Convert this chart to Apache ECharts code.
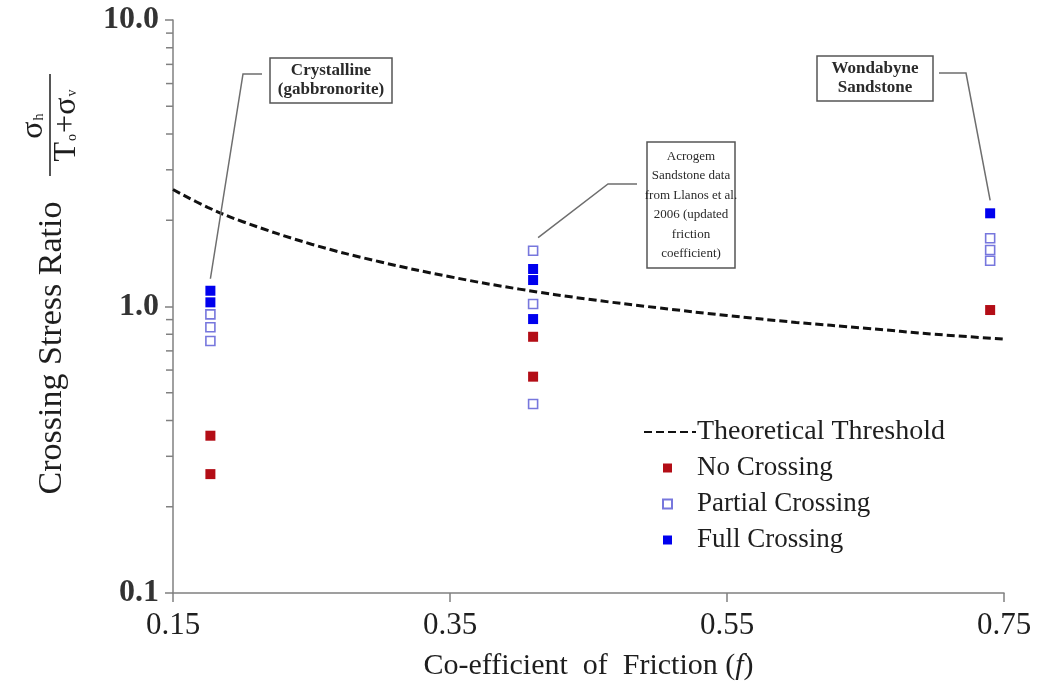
<!DOCTYPE html>
<html>
<head>
<meta charset="utf-8">
<script src="https://cdn.jsdelivr.net/npm/echarts@6/dist/echarts.min.js"></script>
<style>
  html, body { margin: 0; padding: 0; background: #ffffff; }
  #chart { width: 1039px; height: 694px; }
</style>
</head>
<body>
<div id="chart"></div>
<script>
const SERIF = '"Liberation Serif", "Times New Roman", serif';

// Friction coefficient (f) and crossing stress ratio of each experiment
const noCrossingF      = [0.177, 0.177, 0.41, 0.41, 0.74];
const noCrossingRatio  = [0.354, 0.260, 0.784, 0.569, 0.972];

const partialCrossingF     = [0.177, 0.177, 0.177, 0.41, 0.41, 0.41, 0.74, 0.74, 0.74];
const partialCrossingRatio = [0.939, 0.846, 0.758, 1.566, 1.020, 0.457, 1.730, 1.575, 1.445];

const fullCrossingF     = [0.177, 0.177, 0.41, 0.41, 0.41, 0.74];
const fullCrossingRatio = [1.135, 1.034, 1.352, 1.237, 0.904, 2.115];

// Theoretical crossing threshold curve
const thresholdF     = [0.15, 0.175, 0.20, 0.25, 0.30, 0.35, 0.40, 0.45, 0.50, 0.55, 0.60, 0.65, 0.70, 0.75];
const thresholdRatio = [2.56, 2.22, 1.98, 1.65, 1.43, 1.27, 1.15, 1.06, 0.99, 0.93, 0.88, 0.84, 0.80, 0.77];

// Axis ranges and ticks
const xMin = 0.15, xMax = 0.75, xStep = 0.2;
const yMin = 0.1, yMax = 10;
const yMinorTicks = [0.2, 0.3, 0.4, 0.5, 0.6, 0.7, 0.8, 0.9, 2, 3, 4, 5, 6, 7, 8, 9];

const zip = (xs, ys) => xs.map((x, i) => [x, ys[i]]);

const AXIS_GREY = '#808080';
const TEXT = '#1e1e1e';

const chart = echarts.init(document.getElementById('chart'), null, { renderer: 'canvas' });

const option = {
  backgroundColor: '#ffffff',
  animation: false,
  grid: { left: 173, right: 35, top: 20, bottom: 101 },
  xAxis: {
    type: 'value',
    min: xMin, max: xMax, interval: xStep,
    name: 'Co-efficient  of  Friction ({i|f})',
    nameLocation: 'middle',
    nameGap: 58,
    nameTextStyle: {
      fontFamily: SERIF, fontSize: 30, color: TEXT,
      rich: { i: { fontFamily: SERIF, fontSize: 30, fontStyle: 'italic', color: TEXT } }
    },
    axisLine: { show: true, lineStyle: { color: AXIS_GREY, width: 1.5 } },
    axisTick: { show: true, inside: false, length: 9, lineStyle: { color: AXIS_GREY, width: 1.5 } },
    axisLabel: {
      margin: 17,
      fontFamily: SERIF, fontSize: 31, color: TEXT,
      formatter: v => v.toFixed(2)
    },
    splitLine: { show: false }
  },
  yAxis: {
    type: 'log',
    logBase: 10,
    min: yMin, max: yMax,
    axisLine: { show: true, lineStyle: { color: AXIS_GREY, width: 1.5 } },
    axisTick: { show: true, inside: false, length: 8, lineStyle: { color: AXIS_GREY, width: 1.5 } },
    axisLabel: {
      margin: 14,
      fontFamily: SERIF, fontSize: 32, fontWeight: 'bold', color: '#333',
      formatter: v => Number(v).toFixed(1)
    },
    splitLine: { show: false }
  },
  legend: [
    {
      data: ['Theoretical Threshold'],
      left: 643, top: 418,
      padding: 0,
      itemWidth: 52, itemHeight: 12,
      selectedMode: false,
      itemStyle: { color: 'rgba(0,0,0,0)', borderColor: 'rgba(0,0,0,0)', borderWidth: 0 },
      textStyle: { fontFamily: SERIF, fontSize: 28, color: TEXT, padding: [0, 0, 0, -4] }
    },
    {
      data: ['No Crossing', 'Partial Crossing', 'Full Crossing'],
      orient: 'vertical',
      left: 662, top: 453,
      padding: 0,
      itemWidth: 9, itemHeight: 9,
      itemGap: 6,
      selectedMode: false,
      formatter: '{gap| }{name}',
      textStyle: {
        fontFamily: SERIF, fontSize: 27, color: TEXT, lineHeight: 30,
        rich: { gap: { width: 20 } }
      }
    }
  ],
  series: [
    {
      name: 'Theoretical Threshold',
      type: 'line',
      data: zip(thresholdF, thresholdRatio),
      smooth: 0.4,
      symbol: 'none',
      lineStyle: { color: '#111111', width: 3, type: [8, 4] },
      itemStyle: { color: '#111111' },
      z: 2
    },
    {
      name: 'No Crossing',
      type: 'scatter',
      data: zip(noCrossingF, noCrossingRatio),
      symbol: 'rect',
      symbolSize: 10,
      itemStyle: { color: '#b30d16', opacity: 1 },
      z: 3
    },
    {
      name: 'Partial Crossing',
      type: 'scatter',
      data: zip(partialCrossingF, partialCrossingRatio),
      symbol: 'rect',
      symbolSize: 9,
      itemStyle: { color: '#ffffff', borderColor: '#7777dd', borderWidth: 1.6, opacity: 1 },
      z: 3
    },
    {
      name: 'Full Crossing',
      type: 'scatter',
      data: zip(fullCrossingF, fullCrossingRatio),
      symbol: 'rect',
      symbolSize: 10,
      itemStyle: { color: '#0000ee', opacity: 1 },
      z: 3
    },
    {
      // minor ticks of the logarithmic ratio axis
      name: 'minorTicks',
      type: 'custom',
      clip: false,
      silent: true,
      data: yMinorTicks.map(v => [xMin, v]),
      renderItem: (params, api) => {
        const p = api.coord([api.value(0), api.value(1)]);
        return {
          type: 'line',
          shape: { x1: p[0] - 7, y1: p[1], x2: p[0], y2: p[1] },
          style: { stroke: AXIS_GREY, lineWidth: 1.5 }
        };
      },
      z: 1
    }
  ]
};

chart.setOption(option);

// Vertical title of the ratio axis with its fraction
const yTitle = {
  type: 'group',
  x: 52, y: 348,
  rotation: Math.PI / 2,
  silent: true,
  children: [
    {
      type: 'text',
      style: {
        text: 'Crossing Stress Ratio', x: 0, y: 0,
        align: 'center', verticalAlign: 'middle',
        font: `34px ${SERIF}`, fill: TEXT
      }
    },
    {
      type: 'text',
      style: {
        text: '{a|σ}{b|h}', x: 222, y: -18,
        align: 'center', verticalAlign: 'middle',
        fill: TEXT,
        rich: {
          a: { fontFamily: SERIF, fontSize: 32, fill: TEXT },
          b: { fontFamily: SERIF, fontSize: 14, fill: TEXT, padding: [10, 0, 0, 1] }
        }
      }
    },
    {
      type: 'line',
      shape: { x1: 172, y1: -2, x2: 274, y2: -2 },
      style: { stroke: TEXT, lineWidth: 1.5 }
    },
    {
      type: 'text',
      style: {
        text: '{a|T}{b|o}{a|+σ}{b|v}', x: 223, y: 15,
        align: 'center', verticalAlign: 'middle',
        fill: TEXT,
        rich: {
          a: { fontFamily: SERIF, fontSize: 32, fill: TEXT },
          b: { fontFamily: SERIF, fontSize: 14, fill: TEXT, padding: [10, 1, 0, 1] }
        }
      }
    }
  ]
};

function noteBox(id, x, y, w, h, lines, font, lineHeight) {
  const children = [{
    type: 'rect',
    shape: { x: 0, y: 0, width: w, height: h },
    style: { fill: '#ffffff', stroke: '#555555', lineWidth: 1.5 }
  }];
  const top = (h - lines.length * lineHeight) / 2 + lineHeight / 2;
  lines.forEach((t, i) => {
    children.push({
      type: 'text',
      style: {
        text: t, x: w / 2, y: top + i * lineHeight,
        align: 'center', verticalAlign: 'middle',
        font: font, fill: '#2a2a2a'
      }
    });
  });
  return { id, type: 'group', x, y, silent: true, children, z: 10 };
}

// Leader line from a note box to the top marker of a rock type
function leader(id, pts) {
  return {
    id, type: 'polyline', silent: true, z: 9,
    shape: { points: pts },
    style: { stroke: '#6e6e6e', lineWidth: 1.5, fill: null }
  };
}

const topOf = (fs, rs, f) => Math.max(...rs.filter((r, i) => fs[i] === f));
const allF = [...partialCrossingF, ...fullCrossingF, ...noCrossingF];
const allR = [...partialCrossingRatio, ...fullCrossingRatio, ...noCrossingRatio];
const anchor = f => chart.convertToPixel({ xAxisIndex: 0, yAxisIndex: 0 }, [f, topOf(allF, allR, f)]);

const aCry = anchor(0.177);
const aAcr = anchor(0.41);
const aWon = anchor(0.74);

chart.setOption({
  graphic: [
    yTitle,
    noteBox('cry', 270, 58, 122, 45, ['Crystalline', '(gabbronorite)'], `bold 17px ${SERIF}`, 19),
    noteBox('acr', 647, 142, 88, 126,
      ['Acrogem', 'Sandstone data', 'from Llanos et al.', '2006 (updated', 'friction', 'coefficient)'],
      `13px ${SERIF}`, 19.5),
    noteBox('won', 817, 56, 116, 45, ['Wondabyne', 'Sandstone'], `bold 17px ${SERIF}`, 19),
    leader('lcry', [[262, 74], [243, 74], [aCry[0], aCry[1] - 12]]),
    leader('lacr', [[637, 184], [608, 184], [aAcr[0] + 5, aAcr[1] - 13]]),
    leader('lwon', [[939, 73], [966, 73], [aWon[0], aWon[1] - 13]])
  ]
});
</script>
</body>
</html>
